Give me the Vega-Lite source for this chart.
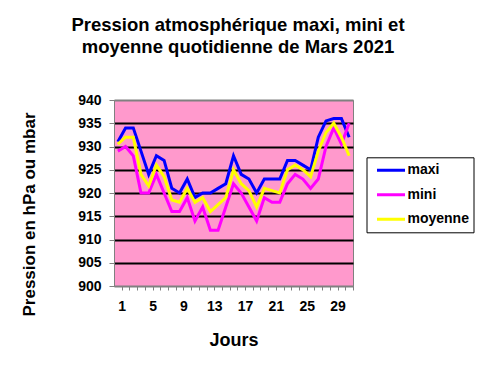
{
  "$schema": "https://vega.github.io/schema/vega-lite/v6.json",
  "width": 239,
  "height": 186,
  "autosize": {"type": "none"},
  "padding": {"left": 114, "top": 100, "right": 133, "bottom": 87},
  "background": "white",
  "title": {
    "text": ["Pression atmosphérique maxi, mini et", "moyenne quotidienne de Mars 2021"],
    "font": "Liberation Sans",
    "fontSize": 18.5,
    "fontWeight": "bold",
    "color": "black",
    "lineHeight": 22,
    "anchor": "middle",
    "frame": "group",
    "dx": 4.5,
    "offset": 37
  },
  "config": {
    "view": {"fill": "#FF99CC", "stroke": "#808080", "strokeWidth": 1},
    "font": "Liberation Sans"
  },
  "data": {
    "values": [
      {"jour": 1, "serie": "maxi", "valeur": 931},
      {"jour": 2, "serie": "maxi", "valeur": 934},
      {"jour": 3, "serie": "maxi", "valeur": 934},
      {"jour": 4, "serie": "maxi", "valeur": 929},
      {"jour": 5, "serie": "maxi", "valeur": 924},
      {"jour": 6, "serie": "maxi", "valeur": 928},
      {"jour": 7, "serie": "maxi", "valeur": 927},
      {"jour": 8, "serie": "maxi", "valeur": 921},
      {"jour": 9, "serie": "maxi", "valeur": 920},
      {"jour": 10, "serie": "maxi", "valeur": 923},
      {"jour": 11, "serie": "maxi", "valeur": 919},
      {"jour": 12, "serie": "maxi", "valeur": 920},
      {"jour": 13, "serie": "maxi", "valeur": 920},
      {"jour": 14, "serie": "maxi", "valeur": 921},
      {"jour": 15, "serie": "maxi", "valeur": 922},
      {"jour": 16, "serie": "maxi", "valeur": 928},
      {"jour": 17, "serie": "maxi", "valeur": 924},
      {"jour": 18, "serie": "maxi", "valeur": 923},
      {"jour": 19, "serie": "maxi", "valeur": 920},
      {"jour": 20, "serie": "maxi", "valeur": 923},
      {"jour": 21, "serie": "maxi", "valeur": 923},
      {"jour": 22, "serie": "maxi", "valeur": 923},
      {"jour": 23, "serie": "maxi", "valeur": 927},
      {"jour": 24, "serie": "maxi", "valeur": 927},
      {"jour": 25, "serie": "maxi", "valeur": 926},
      {"jour": 26, "serie": "maxi", "valeur": 925},
      {"jour": 27, "serie": "maxi", "valeur": 932},
      {"jour": 28, "serie": "maxi", "valeur": 935.5},
      {"jour": 29, "serie": "maxi", "valeur": 936},
      {"jour": 30, "serie": "maxi", "valeur": 936},
      {"jour": 31, "serie": "maxi", "valeur": 932},
      {"jour": 1, "serie": "mini", "valeur": 929},
      {"jour": 2, "serie": "mini", "valeur": 930},
      {"jour": 3, "serie": "mini", "valeur": 928},
      {"jour": 4, "serie": "mini", "valeur": 920},
      {"jour": 5, "serie": "mini", "valeur": 920},
      {"jour": 6, "serie": "mini", "valeur": 924},
      {"jour": 7, "serie": "mini", "valeur": 920},
      {"jour": 8, "serie": "mini", "valeur": 916},
      {"jour": 9, "serie": "mini", "valeur": 916},
      {"jour": 10, "serie": "mini", "valeur": 919},
      {"jour": 11, "serie": "mini", "valeur": 914},
      {"jour": 12, "serie": "mini", "valeur": 917},
      {"jour": 13, "serie": "mini", "valeur": 912},
      {"jour": 14, "serie": "mini", "valeur": 912},
      {"jour": 15, "serie": "mini", "valeur": 917},
      {"jour": 16, "serie": "mini", "valeur": 922},
      {"jour": 17, "serie": "mini", "valeur": 920},
      {"jour": 18, "serie": "mini", "valeur": 917},
      {"jour": 19, "serie": "mini", "valeur": 914},
      {"jour": 20, "serie": "mini", "valeur": 919},
      {"jour": 21, "serie": "mini", "valeur": 918},
      {"jour": 22, "serie": "mini", "valeur": 918},
      {"jour": 23, "serie": "mini", "valeur": 922},
      {"jour": 24, "serie": "mini", "valeur": 924},
      {"jour": 25, "serie": "mini", "valeur": 923},
      {"jour": 26, "serie": "mini", "valeur": 921},
      {"jour": 27, "serie": "mini", "valeur": 923},
      {"jour": 28, "serie": "mini", "valeur": 930},
      {"jour": 29, "serie": "mini", "valeur": 934},
      {"jour": 30, "serie": "mini", "valeur": 930.5},
      {"jour": 31, "serie": "mini", "valeur": 935},
      {"jour": 1, "serie": "moyenne", "valeur": 930.5},
      {"jour": 2, "serie": "moyenne", "valeur": 932},
      {"jour": 3, "serie": "moyenne", "valeur": 932},
      {"jour": 4, "serie": "moyenne", "valeur": 924},
      {"jour": 5, "serie": "moyenne", "valeur": 921.5},
      {"jour": 6, "serie": "moyenne", "valeur": 926},
      {"jour": 7, "serie": "moyenne", "valeur": 923.5},
      {"jour": 8, "serie": "moyenne", "valeur": 918.5},
      {"jour": 9, "serie": "moyenne", "valeur": 918},
      {"jour": 10, "serie": "moyenne", "valeur": 921},
      {"jour": 11, "serie": "moyenne", "valeur": 918},
      {"jour": 12, "serie": "moyenne", "valeur": 919},
      {"jour": 13, "serie": "moyenne", "valeur": 916},
      {"jour": 14, "serie": "moyenne", "valeur": 917.5},
      {"jour": 15, "serie": "moyenne", "valeur": 919},
      {"jour": 16, "serie": "moyenne", "valeur": 925},
      {"jour": 17, "serie": "moyenne", "valeur": 922},
      {"jour": 18, "serie": "moyenne", "valeur": 920.5},
      {"jour": 19, "serie": "moyenne", "valeur": 917},
      {"jour": 20, "serie": "moyenne", "valeur": 921},
      {"jour": 21, "serie": "moyenne", "valeur": 920.5},
      {"jour": 22, "serie": "moyenne", "valeur": 920},
      {"jour": 23, "serie": "moyenne", "valeur": 925},
      {"jour": 24, "serie": "moyenne", "valeur": 926},
      {"jour": 25, "serie": "moyenne", "valeur": 925},
      {"jour": 26, "serie": "moyenne", "valeur": 923.5},
      {"jour": 27, "serie": "moyenne", "valeur": 929},
      {"jour": 28, "serie": "moyenne", "valeur": 933},
      {"jour": 29, "serie": "moyenne", "valeur": 935},
      {"jour": 30, "serie": "moyenne", "valeur": 932},
      {"jour": 31, "serie": "moyenne", "valeur": 928}
    ]
  },
  "mark": {"type": "line", "strokeWidth": 3},
  "encoding": {
    "x": {
      "field": "jour",
      "type": "ordinal",
      "scale": {"type": "point", "padding": 0.5},
      "axis": {
        "title": "Jours",
        "titleFont": "Liberation Sans",
        "titleFontSize": 18,
        "titleFontWeight": "bold",
        "titleColor": "black",
        "titleX": 119.5,
        "titleY": 59,
        "titleAlign": "center",
        "titleBaseline": "alphabetic",
        "labelAngle": 0,
        "labelExpr": "(datum.value - 1) % 4 === 0 ? datum.label : ''",
        "labelFont": "Liberation Sans",
        "labelFontSize": 14,
        "labelFontWeight": "bold",
        "labelColor": "black",
        "labelPadding": 9,
        "tickOffset": 3.855,
        "tickSize": 4,
        "tickColor": "#808080",
        "domainColor": "#808080",
        "grid": false
      }
    },
    "y": {
      "field": "valeur",
      "type": "quantitative",
      "scale": {"domain": [900, 940], "nice": false, "zero": false},
      "axis": {
        "values": [900, 905, 910, 915, 920, 925, 930, 935, 940],
        "title": "Pression en hPa ou mbar",
        "titleFont": "Liberation Sans",
        "titleFontSize": 17,
        "titleFontWeight": "bold",
        "titleColor": "black",
        "titleAngle": -90,
        "titleX": -80,
        "titleY": 114,
        "titleAlign": "center",
        "titleBaseline": "alphabetic",
        "labelFont": "Liberation Sans",
        "labelFontSize": 14,
        "labelFontWeight": "bold",
        "labelColor": "black",
        "labelPadding": 8,
        "tickSize": 5,
        "tickColor": "#808080",
        "domainColor": "#808080",
        "grid": true,
        "gridColor": {"condition": {"test": "datum.value === 900 || datum.value === 940", "value": "#808080"}, "value": "black"},
        "gridWidth": 2,
        "gridOpacity": 1
      }
    },
    "color": {
      "field": "serie",
      "type": "nominal",
      "scale": {"domain": ["maxi", "mini", "moyenne"], "range": ["#0000FF", "#FF00FF", "#FFFF00"]},
      "legend": {
        "title": null,
        "orient": "none",
        "legendX": 252.5,
        "legendY": 57.3,
        "fillColor": "white",
        "strokeColor": "black",
        "padding": 4,
        "symbolType": "stroke",
        "symbolSize": 784,
        "symbolStrokeWidth": 3,
        "symbolOffset": 5,
        "clipHeight": 18,
        "rowPadding": 6.5,
        "labelOffset": 1,
        "labelFont": "Liberation Sans",
        "labelFontSize": 14,
        "labelFontWeight": "bold",
        "labelColor": "black"
      }
    }
  }
}
